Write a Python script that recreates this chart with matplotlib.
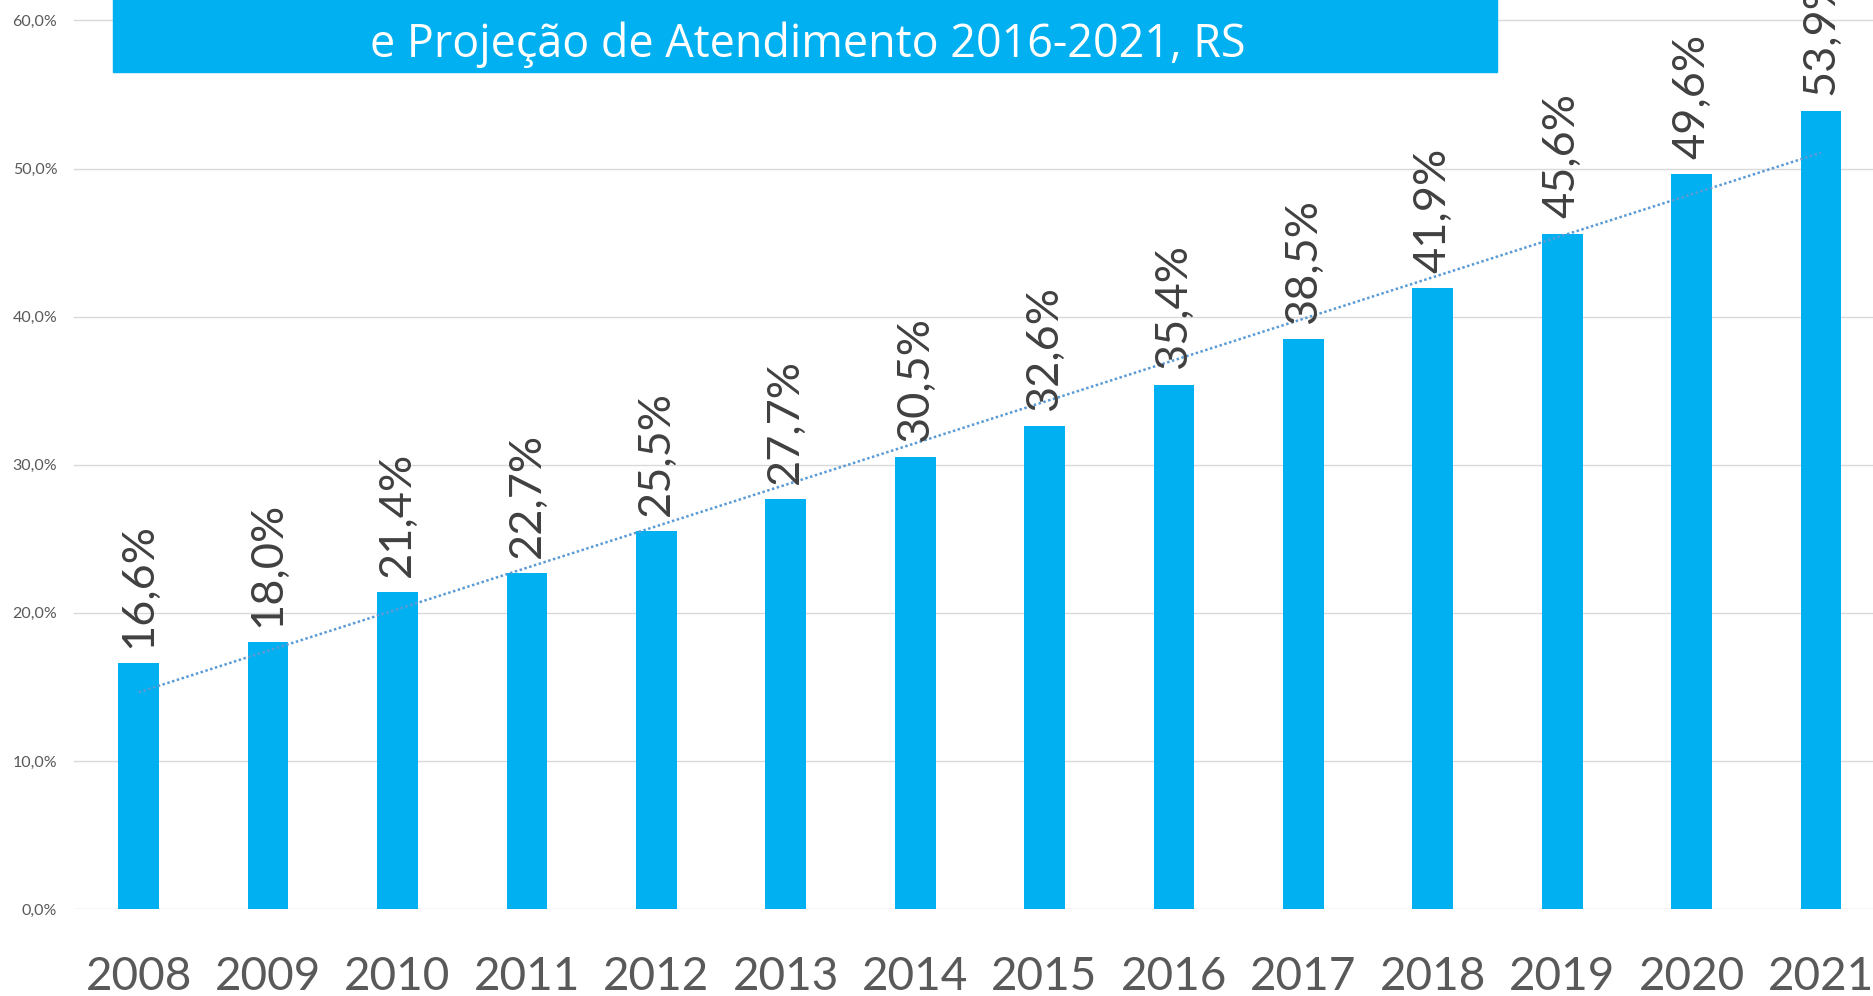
import numpy as np
import matplotlib.pyplot as plt
from matplotlib.patches import Rectangle

anos = ['2008', '2009', '2010', '2011', '2012', '2013', '2014',
        '2015', '2016', '2017', '2018', '2019', '2020', '2021']
atendimento = [16.6, 18.0, 21.4, 22.7, 25.5, 27.7, 30.5,
               32.6, 35.4, 38.5, 41.9, 45.6, 49.6, 53.9]
y_ticks = [0, 10, 20, 30, 40, 50, 60]
titulo = 'e Projeção de Atendimento 2016-2021, RS'

azul = '#00B0F0'
cinza = '#595959'

fig = plt.figure(figsize=(18.74, 9.96), dpi=100)
ax = fig.add_axes([74 / 1874, 1 - 909 / 996, 1 - 74 / 1874, 909 / 996])

x = np.arange(len(anos))
ax.bar(x, atendimento, 0.315, color=azul, zorder=2)

# linha de tendencia linear (pontilhada)
coef = np.polyfit(x, atendimento, 1)
ax.plot(x, np.polyval(coef, x), color='#5B9BD5', lw=1.8,
        linestyle=(0, (1, 1)), zorder=3)

for xi, v in zip(x, atendimento):
    ax.annotate(f'{v:.1f}%'.replace('.', ','), (xi, v), xytext=(0, 11),
                textcoords='offset points', rotation=90, ha='center',
                va='bottom', fontsize=32.5, family=['Lato', 'DejaVu Sans'],
                color='#404040', zorder=4, annotation_clip=False)

ax.set_xlim(-0.5, 13.41)
ax.set_ylim(0, 61.38)
for s in ax.spines.values():
    s.set_visible(False)

ax.set_yticks(y_ticks, [f'{t:.1f}%'.replace('.', ',') for t in y_ticks],
              family=['Lato', 'DejaVu Sans'])
ax.set_xticks(x, anos, family=['Lato', 'DejaVu Sans'])
ax.tick_params(axis='y', length=0, pad=12, labelsize=11.5, labelcolor=cinza)
ax.tick_params(axis='x', length=0, pad=34, labelsize=33, labelcolor=cinza)
ax.grid(axis='y', color='#D9D9D9', lw=1)
ax.set_axisbelow(True)

# caixa do titulo (cortada no topo)
fig.add_artist(Rectangle((113 / 1874, 1 - 72 / 996), (1497 - 113) / 1874,
                         0.1, transform=fig.transFigure, color=azul,
                         zorder=3))
fig.text(808 / 1874, 1 - 57 / 996, titulo, ha='center', va='baseline',
         fontsize=32.3, color='white', family=['Open Sans', 'DejaVu Sans'],
         zorder=4)

fig.savefig('out.png', dpi=100)
